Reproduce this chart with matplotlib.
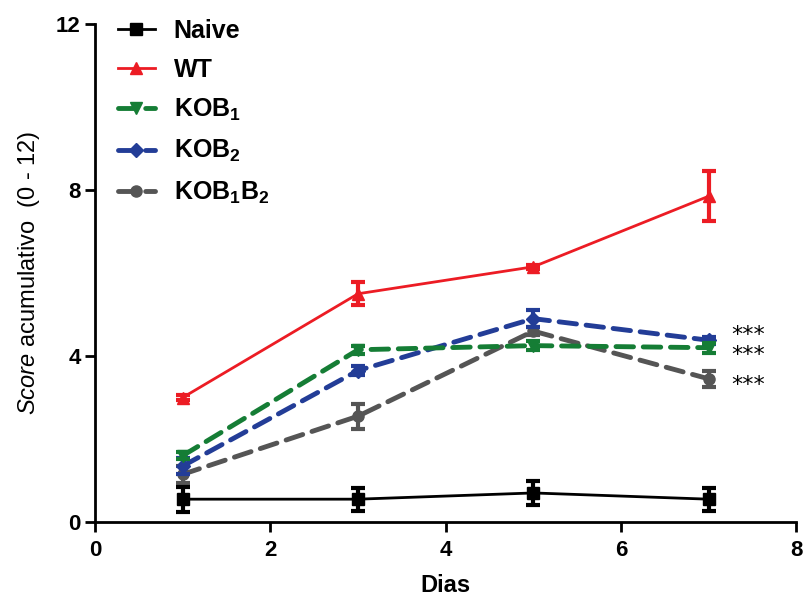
import matplotlib
matplotlib.use("Agg")
import matplotlib.pyplot as plt

plt.rcParams['font.family'] = ['Liberation Sans', 'DejaVu Sans']
plt.rcParams['mathtext.fontset'] = 'custom'
plt.rcParams['mathtext.rm'] = 'Liberation Sans:bold'
plt.rcParams['mathtext.bf'] = 'Liberation Sans:bold'
plt.rcParams['mathtext.it'] = 'Liberation Sans:italic'
plt.rcParams['mathtext.default'] = 'bf'

days = [1, 3, 5, 7]
naive = [0.55, 0.55, 0.70, 0.55]
naive_err = [0.30, 0.28, 0.28, 0.28]
wt = [3.0, 5.5, 6.15, 7.85]
wt_err = [0.05, 0.28, 0.05, 0.6]
kob1 = [1.6, 4.15, 4.25, 4.2]
kob1_err = [0.08, 0.1, 0.1, 0.12]
kob2 = [1.35, 3.65, 4.9, 4.38]
kob2_err = [0.2, 0.1, 0.2, 0.08]
kob1b2 = [1.15, 2.55, 4.6, 3.45]
kob1b2_err = [0.2, 0.3, 0.1, 0.2]

series_labels = ['Naive', 'WT', 'KOB$_1$', 'KOB$_2$', 'KOB$_1$B$_2$']
stars = ['***', '***', '***']

fig = plt.figure(figsize=(8.06, 6.0), dpi=100)
ax = fig.add_axes([0.118, 0.13, 0.870, 0.83])

dash = (0, (3.6, 2.0))
common = dict(capsize=5, capthick=3, elinewidth=3)

h5 = ax.errorbar(days, kob1b2, yerr=kob1b2_err, color='#555555', marker='o', ms=8,
                 lw=3.5, ls=dash, dash_capstyle='round', zorder=2, **common)
h4 = ax.errorbar(days, kob2, yerr=kob2_err, color='#233d97', marker='D', ms=7,
                 lw=3.5, ls=dash, dash_capstyle='round', zorder=3, **common)
h3 = ax.errorbar(days, kob1, yerr=kob1_err, color='#157d35', marker='v', ms=9,
                 lw=3.5, ls=dash, dash_capstyle='round', zorder=4, **common)
h2 = ax.errorbar(days, wt, yerr=wt_err, color='#ec1c24', marker='^', ms=9,
                 lw=2.0, ls='-', zorder=5, **common)
h1 = ax.errorbar(days, naive, yerr=naive_err, color='#000000', marker='s', ms=9,
                 lw=2.0, ls='-', zorder=6, **common)

for h in (h1, h2, h3, h4, h5):
    for bar in h[2]:
        bar.set_linestyle('-')

# significance asterisks next to last points
for val, off, s in zip([kob2[-1], kob1[-1], kob1b2[-1]], [3.5, -5, -4.5], stars):
    ax.annotate(s, (days[-1], val), xytext=(16, off), textcoords='offset points',
                fontsize=16, va='center', ha='left', family='DejaVu Sans')

leg = ax.legend([h[0] for h in (h1, h2, h3, h4, h5)], series_labels, loc='upper left',
                bbox_to_anchor=(0.007, 1.045), frameon=False,
                prop={'weight': 'bold', 'size': 18}, handlelength=1.5,
                labelspacing=0.6, handletextpad=0.75, borderaxespad=0.3)

ax.set_xlim(0, 8)
ax.set_ylim(0, 12)
ax.set_xticks([0, 2, 4, 6, 8])
ax.set_yticks([0, 4, 8, 12])
ax.spines['top'].set_visible(False)
ax.spines['right'].set_visible(False)
ax.spines['left'].set_linewidth(2)
ax.spines['bottom'].set_linewidth(2)
ax.tick_params(width=2, length=7, labelsize=16)
ax.tick_params(axis='x', pad=6)
for lab in ax.get_xticklabels() + ax.get_yticklabels():
    lab.set_fontweight('bold')

ax.set_xlabel('Dias', fontsize=17, fontweight='bold', labelpad=9)
ax.set_ylabel(r'$\mathit{Score}$ acumulativo  (0 - 12)', fontsize=17, labelpad=10)

fig.savefig('out.png', dpi=100)
